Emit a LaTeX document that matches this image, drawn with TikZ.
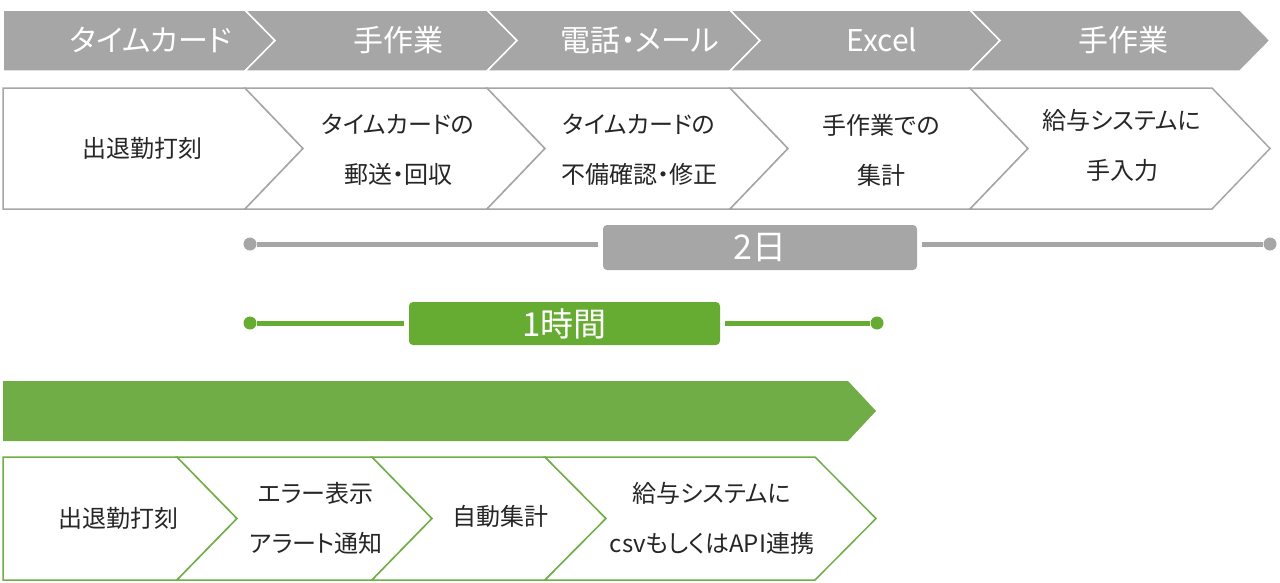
\documentclass[tikz,border=0pt]{standalone}
\usepackage{fontspec}
\setmainfont{Noto Sans CJK JP}[RawFeature=+palt]
\definecolor{flowgray}{HTML}{A6A6A6}
\definecolor{flowgreen}{HTML}{70AD47}
\definecolor{timegreen}{HTML}{66AC33}
\definecolor{txtdark}{HTML}{262626}
\begin{document}
\begin{tikzpicture}[x=1pt, y=-1pt,
    banner/.style={fill=flowgray, draw=white, line width=1.5pt},
    oldstep/.style={fill=white, draw=flowgray, line width=1.5pt},
    newstep/.style={fill=white, draw=flowgreen, line width=1.5pt},
    tooltxt/.style={text=white, font=\fontsize{30}{32}\selectfont},
    steptxt/.style={text=txtdark, align=center, font=\fontsize{24}{50}\selectfont},
    enddot/.style={circle, inner sep=0pt, minimum size=13pt}]
\useasboundingbox (0,0) rectangle (1280,582);
% tools used today
\draw[banner] (3,10) -- (245,10) -- (275,40.5) -- (245,71) -- (3,71) -- cycle;
\draw[banner] (245,10) -- (487,10) -- (517,40.5) -- (487,71) -- (245,71) -- (275,40.5) -- cycle;
\draw[banner] (487,10) -- (730,10) -- (760,40.5) -- (730,71) -- (487,71) -- (517,40.5) -- cycle;
\draw[banner] (730,10) -- (970,10) -- (1000,40.5) -- (970,71) -- (730,71) -- (760,40.5) -- cycle;
\draw[banner] (970,10) -- (1240,10) -- (1270,40.5) -- (1240,71) -- (970,71) -- (1000,40.5) -- cycle;
\node[tooltxt] (tool1) at (151,40) {タイムカード};
\node[tooltxt] (tool2) at (398,40) {手作業};
\node[tooltxt] (tool3) at (640,40) {電話・メール};
\node[tooltxt] (tool4) at (882,40) {Excel};
\node[tooltxt] (tool5) at (1123,40) {手作業};
% current steps
\draw[oldstep] (3,88) -- (245,88) -- (303,148.5) -- (245,209) -- (3,209) -- cycle;
\draw[oldstep] (245,88) -- (487,88) -- (545,148.5) -- (487,209) -- (245,209) -- (303,148.5) -- cycle;
\draw[oldstep] (487,88) -- (730,88) -- (788,148.5) -- (730,209) -- (487,209) -- (545,148.5) -- cycle;
\draw[oldstep] (730,88) -- (970,88) -- (1028,148.5) -- (970,209) -- (730,209) -- (788,148.5) -- cycle;
\draw[oldstep] (970,88) -- (1212,88) -- (1270,148.5) -- (1212,209) -- (970,209) -- (1028,148.5) -- cycle;
\node[steptxt] (old1) at (142,148) {出退勤打刻};
\node[steptxt] (old2) at (398,150) {タイムカードの\\郵送・回収};
\node[steptxt] (old3) at (639,150) {タイムカードの\\不備確認・修正};
\node[steptxt] (old4) at (881,150) {手作業での\\集計};
\node[steptxt] (old5) at (1122,145) {給与システムに\\手入力};
% durations
\node[enddot, fill=flowgray] (gstart) at (250,244) {};
\node[enddot, fill=flowgray] (gend) at (1270,244) {};
\node[fill=flowgray, rounded corners=4pt, minimum width=314pt, minimum height=45pt,
      outer sep=5pt, text=white, font=\fontsize{34}{36}\selectfont] (days) at (760,247.5) {2日};
\draw[flowgray, line width=5pt] (gstart) -- (gstart -| days.west);
\draw[flowgray, line width=5pt] (gstart -| days.east) -- (gend);
\node[enddot, fill=timegreen] (nstart) at (250,323) {};
\node[enddot, fill=timegreen] (nend) at (877,323) {};
\node[fill=timegreen, rounded corners=4pt, minimum width=311pt, minimum height=43pt,
      outer sep=5pt, text=white, font=\fontsize{33}{34}\selectfont] (hour) at (564.5,323.5) {1時間};
\draw[timegreen, line width=5pt] (nstart) -- (nstart -| hour.west);
\draw[timegreen, line width=5pt] (nstart -| hour.east) -- (nend);
% new flow
\fill[flowgreen] (3,381) -- (848,381) -- (876,411) -- (848,441) -- (3,441) -- cycle;
\draw[newstep] (3,457) -- (177,457) -- (237,518.5) -- (177,580) -- (3,580) -- cycle;
\draw[newstep] (177,457) -- (372,457) -- (432,518.5) -- (372,580) -- (177,580) -- (237,518.5) -- cycle;
\draw[newstep] (372,457) -- (545,457) -- (606,518.5) -- (545,580) -- (372,580) -- (432,518.5) -- cycle;
\draw[newstep] (545,457) -- (815,457) -- (876,518.5) -- (815,580) -- (545,580) -- (606,518.5) -- cycle;
\node[steptxt] (new1) at (118,518) {出退勤打刻};
\node[steptxt] (new2) at (316,518) {エラー表示\\アラート通知};
\node[steptxt] (new3) at (500,516) {自動集計};
\node[steptxt] (new4) at (712,518) {給与システムに\\csvもしくはAPI連携};
\end{tikzpicture}
\end{document}
